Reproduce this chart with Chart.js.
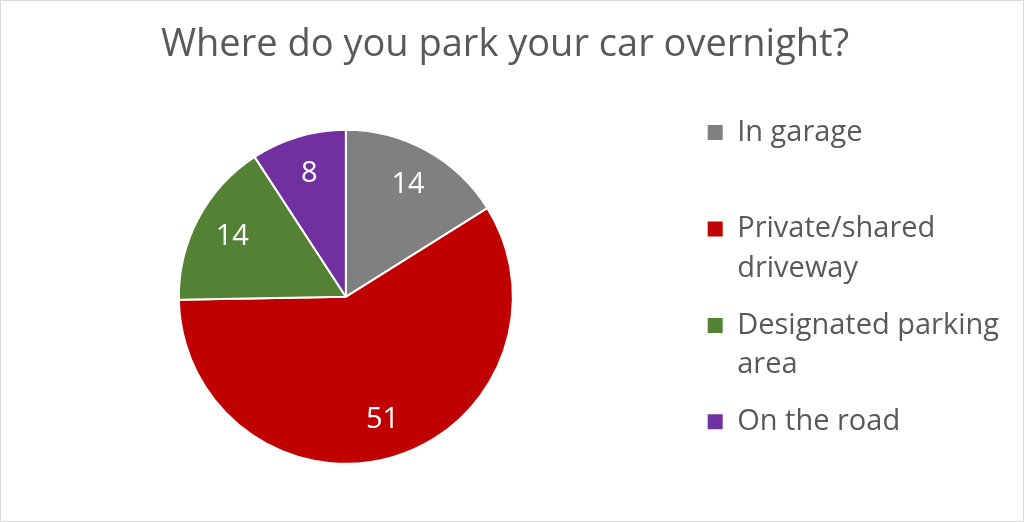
<!DOCTYPE html>
<html>
<head>
<meta charset="utf-8">
<script src="https://cdn.jsdelivr.net/npm/chart.js@4"></script>
<style>
  html, body { margin: 0; padding: 0; background: #fff; }
  #wrap { width: 1022px; height: 520px; border: 1px solid #d9d9d9; position: relative; }
</style>
</head>
<body>
<div id="wrap"><canvas id="parkChart"></canvas></div>
<script>
// chart data
const titleText = "Where do you park your car overnight?";
const categories = [["In garage"], ["Private/shared", "driveway"], ["Designated parking", "area"], ["On the road"]];
const answers = [14, 51, 14, 8];
const sliceColors = ["#808080", "#C00000", "#548235", "#7030A0"];

const textGrey = "#595959";
const fontFamily = '"Open Sans", "Noto Sans", sans-serif';

// white value labels inside the slices
const valueLabels = {
  id: "valueLabels",
  afterDatasetsDraw(chart) {
    const ctx = chart.ctx;
    const meta = chart.getDatasetMeta(0);
    ctx.save();
    ctx.font = "29px " + fontFamily;
    ctx.fillStyle = "#ffffff";
    ctx.textAlign = "center";
    ctx.textBaseline = "middle";
    meta.data.forEach((arc, i) => {
      const p = arc.getProps(["x", "y", "startAngle", "endAngle", "outerRadius"], true);
      const mid = (p.startAngle + p.endAngle) / 2;
      const r = p.outerRadius * 0.77;
      ctx.fillText(String(answers[i]), p.x + Math.cos(mid) * r, p.y + Math.sin(mid) * r);
    });
    ctx.restore();
  }
};

document.addEventListener("DOMContentLoaded", () => {
  const canvas = document.getElementById("parkChart");

  new Chart(canvas, {
    type: "pie",
    data: {
      labels: categories,
      datasets: [{
        data: answers,
        backgroundColor: sliceColors,
        borderColor: "#ffffff",
        borderWidth: 2,
        radius: 167
      }]
    },
    options: {
      responsive: true,
      maintainAspectRatio: false,
      animation: false,
      layout: { padding: { left: 0, right: 14, top: 0, bottom: 8 } },
      plugins: {
        title: {
          display: true,
          text: titleText,
          color: textGrey,
          font: { family: fontFamily, size: 38, weight: "normal", lineHeight: 1.2 },
          padding: { top: 21, bottom: 13 }
        },
        legend: {
          position: "right",
          align: "center",
          fullSize: false,
          title: { display: true, text: " ", font: { size: 8, lineHeight: 1.4 }, padding: 0 },
          labels: {
            color: textGrey,
            font: { family: fontFamily, size: 29, lineHeight: 1.37 },
            boxWidth: 15,
            boxHeight: 15,
            padding: 17,
            generateLabels(chart) {
              const items = Chart.overrides.pie.plugins.legend.labels.generateLabels(chart);
              return items.map(item => {
                const lines = [].concat(item.text);
                while (lines.length < 2) lines.push("");
                item.text = lines;
                item.lineWidth = 0;
                return item;
              });
            }
          }
        },
        tooltip: { enabled: false }
      }
    },
    plugins: [valueLabels]
  });
});
</script>
</body>
</html>
